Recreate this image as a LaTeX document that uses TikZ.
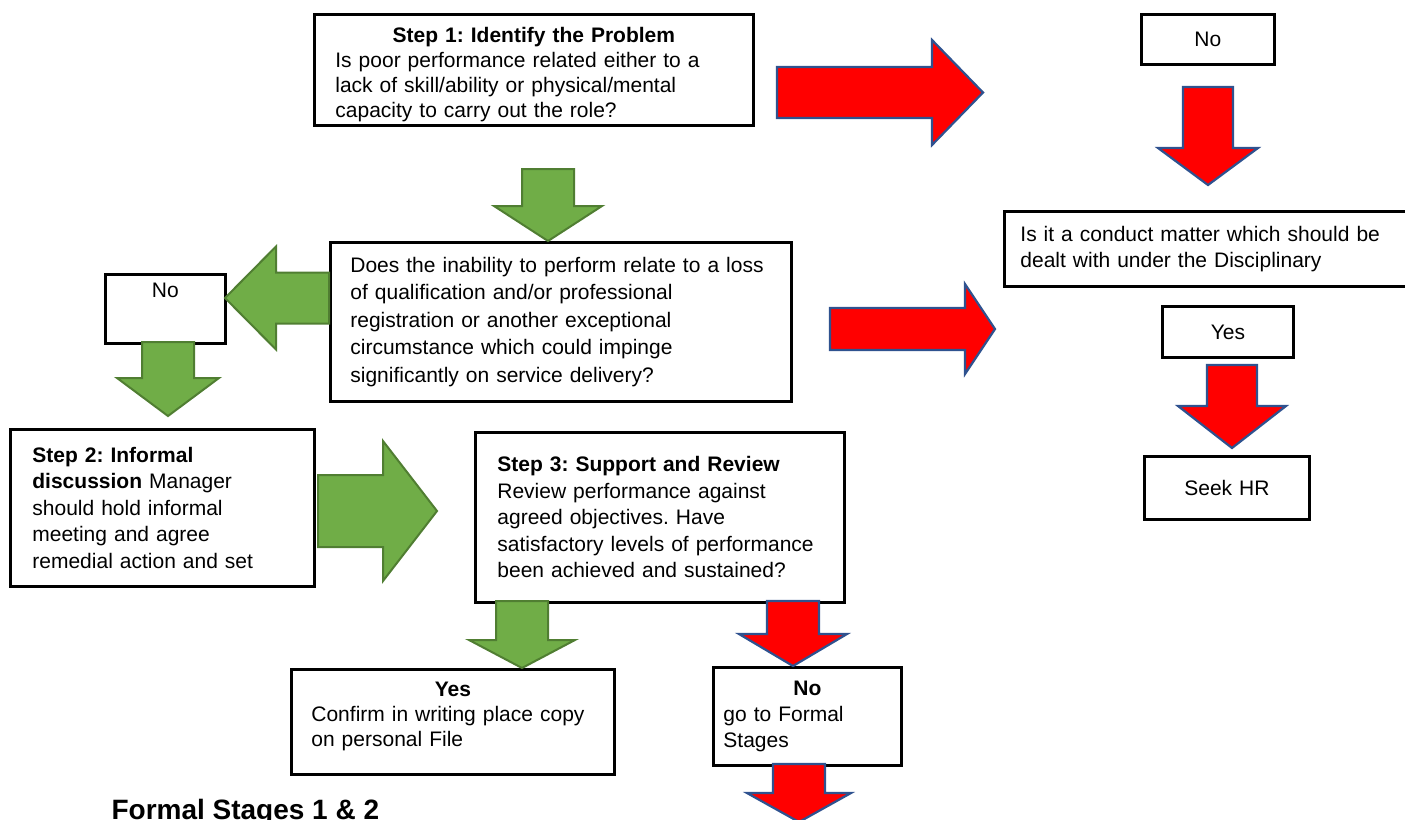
\documentclass[tikz,border=0pt]{standalone}
\usepackage{fontspec}
\setmainfont{Liberation Sans}
\usetikzlibrary{calc}
\definecolor{arrred}{HTML}{FF0000}
\definecolor{arrblue}{HTML}{2F528F}
\definecolor{arrgreen}{HTML}{70AD47}
\definecolor{arrgreendk}{HTML}{507E32}
\frenchspacing

% block arrow: style, from, to, shaft half width, head half width, head length
\newcommand{\blockarrow}[6]{%
  \draw[#1] let \p1=($(#3)-(#2)$), \n1={atan2(\y1,\x1)}, \n2={veclen(\x1,\y1)} in
    [shift={(#2)}, rotate=\n1]
    (0pt,-#4pt) -- ({\n2*1pt-#6pt},-#4pt) -- ({\n2*1pt-#6pt},-#5pt) -- ({\n2*1pt},0pt)
    -- ({\n2*1pt-#6pt},#5pt) -- ({\n2*1pt-#6pt},#4pt) -- (0pt,#4pt) -- cycle;}

\begin{document}
\begin{tikzpicture}[x=1pt, y=-1pt,
    box/.style={draw, line width=2.8pt, anchor=north west, align=left,
                inner xsep=16pt, inner ysep=4pt, font=\fontsize{21}{24}\selectfont},
    redarrow/.style={draw=arrblue, fill=arrred, line width=2.2pt},
    greenarrow/.style={draw=arrgreendk, fill=arrgreen, line width=2pt},
  ]
    \useasboundingbox (0,0) rectangle (1405,819);

    % boxes
    \node[box, inner xsep=21pt, text width=397pt, minimum height=109pt,
          font=\fontsize{21}{25}\selectfont] (step1) at (313,13)
      {\makebox[\hsize]{\rule{0pt}{24pt}\bfseries Step 1: Identify the Problem}\\
       Is poor performance related either to a\\
       lack of skill/ability or physical/mental\\
       capacity to carry out the role?};
    \node[box, align=center, text width=101pt, minimum height=50pt] (noTR) at (1140,13) {No};
    \node[box, text width=380pt, minimum height=75pt, font=\fontsize{21}{26}\selectfont] (conduct) at (1003,210)
      {Is it a conduct matter which should be\\
       dealt with under the Disciplinary};
    \node[box, align=center, text width=99pt, minimum height=51pt] (yesR) at (1161,305) {Yes};
    \node[box, align=center, text width=133pt, minimum height=63pt] (seekhr) at (1143,455) {Seek HR};
    \node[box, inner xsep=20pt, text width=421pt, minimum height=159pt,
          font=\fontsize{21}{27.5}\selectfont] (q2) at (329,241)
      {Does the inability to perform relate to a loss\\
       of qualification and/or professional\\
       registration or another exceptional\\
       circumstance which could impinge\\
       significantly on service delivery?};
    \node[box, align=center, text width=88pt, inner ysep=8pt, text height=15pt, text depth=38pt] (noL) at (104,273) {No};
    \node[box, inner xsep=22pt, text width=260pt, minimum height=157pt,
          font=\fontsize{21}{26.5}\selectfont] (step2) at (9,428)
      {\textbf{Step 2: Informal}\\
       \textbf{discussion} Manager\\
       should hold informal\\
       meeting and agree\\
       remedial action and set};
    \node[box, inner xsep=22pt, text width=325pt, minimum height=170pt,
          font=\fontsize{21}{26.5}\selectfont] (step3) at (474,431)
      {\textbf{Step 3: Support and Review}\\
       Review performance against\\
       agreed objectives. Have\\
       satisfactory levels of performance\\
       been achieved and sustained?};
    \node[box, inner xsep=20pt, text width=283pt, minimum height=105pt,
          inner ysep=6pt, text height=16pt, text depth=67pt,
          font=\fontsize{21}{25}\selectfont] (yesB) at (290,668)
      {\makebox[\hsize]{\bfseries Yes}\\
       Confirm in writing place copy\\
       on personal File};
    \node[box, inner xsep=10pt, text width=168pt, minimum height=98pt,
          font=\fontsize{21}{26}\selectfont] (noB) at (712,666)
      {\makebox[\hsize]{\bfseries No}\\
       go to Formal\\
       Stages};
    \node[anchor=west, font=\fontsize{28}{32}\selectfont\bfseries] (formal) at (108,812)
      {Formal Stages 1 \& 2};

    % arrow ends
    \coordinate (r1s) at (777,92.5);  \coordinate (r1e) at (983,92.5);
    \coordinate (r2s) at (1208,87);   \coordinate (r2e) at (1208,185);
    \coordinate (rms) at (830,329);   \coordinate (rme) at (995,329);
    \coordinate (r3s) at (1232,365);  \coordinate (r3e) at (1232,448);
    \coordinate (r4s) at (793,601);   \coordinate (r4e) at (r4s |- noB.north);
    \coordinate (r5s) at (799,764);   \coordinate (r5e) at (799,822);
    \coordinate (g1s) at (548,169);   \coordinate (g1e) at (g1s |- q2.north);
    \coordinate (g2e) at (225,298);   \coordinate (g2s) at (q2.west |- g2e);
    \coordinate (g3s) at (168,342);   \coordinate (g3e) at (168,416);
    \coordinate (g4s) at (318,511);   \coordinate (g4e) at (437,511);
    \coordinate (g5s) at (522,601);   \coordinate (g5e) at (g5s |- yesB.north);

    % red arrows
    \blockarrow{redarrow}{r1s}{r1e}{25.5}{52.5}{51}
    \blockarrow{redarrow}{r2s}{r2e}{25}{50}{37}
    \blockarrow{redarrow}{rms}{rme}{21}{45}{30}
    \blockarrow{redarrow}{r3s}{r3e}{25}{54}{42}
    \blockarrow{redarrow}{r4s}{r4e}{26}{54}{32}
    \blockarrow{redarrow}{r5s}{r5e}{26}{52}{29}

    % green arrows
    \blockarrow{greenarrow}{g1s}{g1e}{26}{54}{35}
    \blockarrow{greenarrow}{g2s}{g2e}{25.5}{51.5}{51}
    \blockarrow{greenarrow}{g3s}{g3e}{26}{51}{38}
    \blockarrow{greenarrow}{g4s}{g4e}{36}{70}{54}
    \blockarrow{greenarrow}{g5s}{g5e}{26}{53}{28}
\end{tikzpicture}
\end{document}
